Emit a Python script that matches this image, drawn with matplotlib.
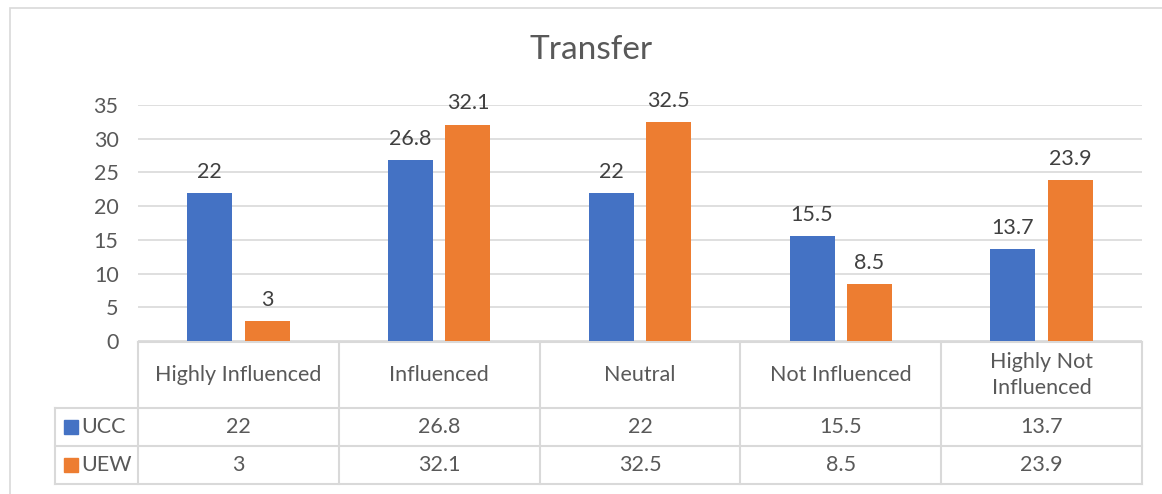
import matplotlib.pyplot as plt
from matplotlib.patches import Rectangle
from matplotlib.transforms import blended_transform_factory
import numpy as np

# data
categories = ["Highly Influenced", "Influenced", "Neutral", "Not Influenced", "Highly Not\nInfluenced"]
series_names = ["UCC", "UEW"]
ucc = [22, 26.8, 22, 15.5, 13.7]
uew = [3, 32.1, 32.5, 8.5, 23.9]
colors = ["#4472C4", "#ED7D31"]

W, H = 1162, 494
TXT = "#595959"
GRID = "#D9D9D9"
FS = 15.5
plt.rcParams['font.family'] = ['Lato', 'DejaVu Sans']

fig = plt.figure(figsize=(W / 100, H / 100), dpi=100)

# chart frame (only left/top visible, rest is cropped)
fig.patches.append(Rectangle((10 / W, 1 - 530 / H), 1200 / W, 522 / H,
                             transform=fig.transFigure, fill=False,
                             edgecolor=GRID, linewidth=1.2))

# plot area in pixel terms
x0, x1 = 138, 1142
y_top, y_zero = 105, 341
ax = fig.add_axes([x0 / W, 1 - y_zero / H, (x1 - x0) / W, (y_zero - y_top) / H])

n = len(categories)
idx = np.arange(n) + 0.5
bw = 0.224
off = 0.143
b1 = ax.bar(idx - off, ucc, bw, color=colors[0], zorder=3)
b2 = ax.bar(idx + off, uew, bw, color=colors[1], zorder=3)
for bars, vals in ((b1, ucc), (b2, uew)):
    for b, v in zip(bars, vals):
        ax.annotate(f"{v:g}", (b.get_x() + b.get_width() / 2, v),
                    xytext=(0, 8), textcoords="offset points",
                    ha="center", va="bottom", fontsize=FS, color="#404040")

ax.set_xlim(0, n)
ax.set_ylim(0, 35)
ax.set_yticks(range(0, 36, 5))
ax.set_xticks([])
ax.yaxis.grid(True, color=GRID, linewidth=1.2, zorder=0)
ax.tick_params(axis="y", length=0, labelsize=FS, labelcolor=TXT, pad=14)
for s in ax.spines.values():
    s.set_visible(False)

# title is centred on the whole chart frame, not the plot area
fig.text(591 / W, 1 - 50 / H, "Transfer", fontsize=24, color=TXT,
         ha="center", va="center")

# data table under the axis
tr = blended_transform_factory(ax.transData, ax.transAxes)
def py(y):
    return (y_zero - y) / (y_zero - y_top)

legx = (55 - x0) / ((x1 - x0) / n)
r0, r1, r2, r3 = py(342), py(408), py(446), py(484)
lk = dict(color=GRID, linewidth=1.5, transform=tr, clip_on=False)
ax.plot([0, n], [r0, r0], **lk)
for r in (r1, r2, r3):
    ax.plot([legx, n], [r, r], **lk)
for i in range(n + 1):
    ax.plot([i, i], [r0, r3], **lk)
ax.plot([legx, legx], [r1, r3], **lk)

for i, c in enumerate(categories):
    ax.text(i + 0.5, (r0 + r1) / 2, c, transform=tr, ha="center", va="center",
            fontsize=FS, color=TXT, linespacing=1.35)
for (name, vals, col, ra, rb) in ((series_names[0], ucc, colors[0], r1, r2),
                                  (series_names[1], uew, colors[1], r2, r3)):
    ym = (ra + rb) / 2
    for i, v in enumerate(vals):
        ax.text(i + 0.5, ym, f"{v:g}", transform=tr, ha="center", va="center",
                fontsize=FS, color=TXT)
    ax.plot([legx + 0.078], [ym], marker="s", markersize=10, color=col,
            transform=tr, clip_on=False, linestyle="none")
    ax.text(legx + 0.13, ym, name, transform=tr, ha="left", va="center",
            fontsize=FS, color=TXT)

fig.savefig("out.png", dpi=100)
